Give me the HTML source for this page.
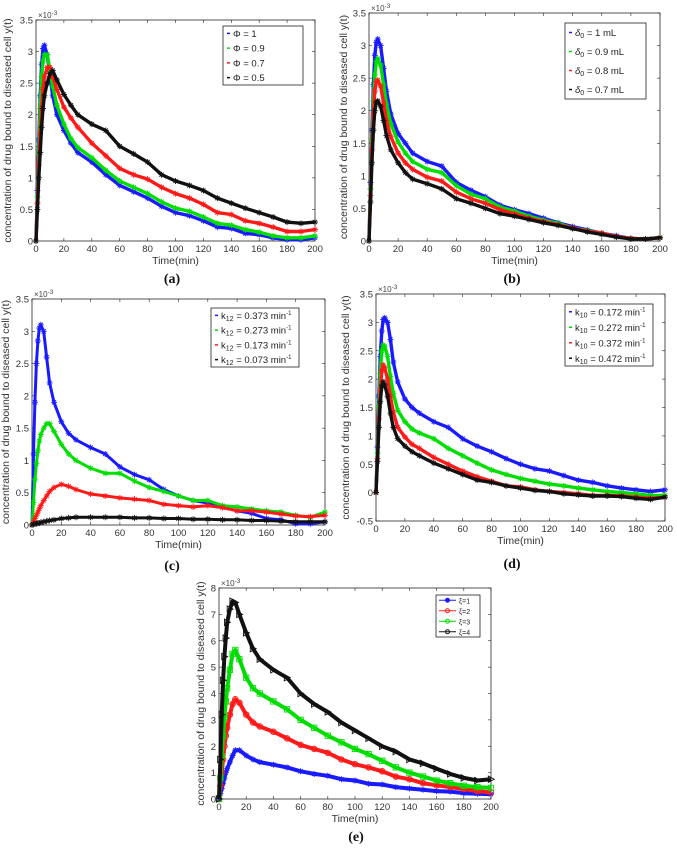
<!DOCTYPE html>
<html><head><meta charset="utf-8"><style>
body{margin:0;background:#fff}
svg text{font-family:"Liberation Sans",sans-serif}
svg text.plab{font-family:"Liberation Serif",serif}
</style></head><body>
<svg id="fig" width="677" height="848" viewBox="0 0 677 848" xmlns="http://www.w3.org/2000/svg"></svg>
<script>
const T=[0,1,2,3,4,5,6,8,10,12,15,20,25,30,40,50,60,70,80,90,100,110,120,130,140,150,160,170,180,190,200];
const xTicks=[0,20,40,60,80,100,120,140,160,180,200];
const yTicksA=[0,0.5,1,1.5,2,2.5,3,3.5];
const yTicksD=[-0.5,0,0.5,1,1.5,2,2.5,3,3.5];
const yTicksE=[0,1,2,3,4,5,6,7,8];
const a_phi1=[0,0.8,1.6,2.3,2.8,3.05,3.1,2.95,2.6,2.3,2.0,1.75,1.55,1.4,1.25,1.05,0.88,0.78,0.68,0.55,0.45,0.4,0.32,0.22,0.2,0.12,0.1,0.05,0.02,0.02,0.05];
const a_phi09=[0,0.7,1.4,2.1,2.6,2.85,2.95,2.95,2.7,2.45,2.15,1.85,1.62,1.48,1.32,1.12,0.95,0.85,0.75,0.62,0.52,0.47,0.38,0.28,0.25,0.18,0.14,0.08,0.05,0.05,0.08];
const a_phi07=[0,0.6,1.2,1.7,2.1,2.4,2.6,2.75,2.75,2.6,2.4,2.12,1.95,1.8,1.55,1.35,1.15,1.05,0.98,0.85,0.75,0.68,0.58,0.45,0.42,0.32,0.28,0.22,0.15,0.15,0.18];
const a_phi05=[0,0.5,1.0,1.4,1.8,2.1,2.3,2.5,2.65,2.7,2.55,2.32,2.15,2.0,1.85,1.75,1.5,1.38,1.25,1.05,0.95,0.88,0.8,0.68,0.6,0.52,0.45,0.38,0.3,0.28,0.3];
const b_d1=[0,0.9,1.7,2.4,2.85,3.05,3.1,3.0,2.65,2.3,1.95,1.65,1.5,1.35,1.22,1.15,0.9,0.78,0.68,0.55,0.48,0.42,0.35,0.28,0.22,0.17,0.12,0.08,0.04,0.03,0.05];
const b_d09=[0,0.8,1.55,2.15,2.55,2.75,2.8,2.7,2.4,2.1,1.8,1.52,1.35,1.22,1.1,1.05,0.85,0.72,0.65,0.52,0.46,0.38,0.32,0.27,0.2,0.16,0.12,0.07,0.04,0.03,0.05];
const b_d08=[0,0.7,1.4,1.95,2.3,2.45,2.47,2.38,2.12,1.85,1.6,1.35,1.2,1.1,0.98,0.92,0.75,0.65,0.58,0.48,0.42,0.35,0.3,0.25,0.2,0.15,0.12,0.07,0.04,0.03,0.05];
const b_d07=[0,0.6,1.2,1.7,2.0,2.13,2.15,2.07,1.85,1.62,1.4,1.2,1.05,0.95,0.88,0.8,0.65,0.58,0.5,0.42,0.38,0.33,0.28,0.24,0.19,0.14,0.1,0.06,0.03,0.03,0.05];
const c_k373=[0,1.1,1.9,2.5,2.85,3.05,3.1,3.0,2.6,2.2,1.9,1.6,1.42,1.32,1.2,1.1,0.9,0.78,0.7,0.55,0.45,0.38,0.34,0.28,0.22,0.18,0.1,0.08,0.02,0.02,0.05];
const c_k273=[0,0.35,0.7,0.95,1.15,1.3,1.4,1.5,1.57,1.57,1.45,1.25,1.1,1.0,0.88,0.8,0.8,0.68,0.58,0.52,0.45,0.38,0.38,0.3,0.28,0.25,0.22,0.2,0.15,0.12,0.2];
const c_k173=[0,0.05,0.1,0.15,0.2,0.25,0.3,0.38,0.45,0.52,0.58,0.63,0.6,0.55,0.48,0.45,0.42,0.4,0.38,0.32,0.3,0.28,0.3,0.27,0.22,0.22,0.2,0.17,0.14,0.13,0.15];
const c_k073=[0,0.01,0.02,0.02,0.03,0.03,0.04,0.05,0.06,0.07,0.08,0.1,0.11,0.12,0.12,0.12,0.12,0.11,0.11,0.1,0.1,0.09,0.09,0.08,0.08,0.07,0.07,0.06,0.05,0.05,0.05];
const d_k172=[0,0.8,1.7,2.4,2.85,3.05,3.08,3.0,2.7,2.3,1.95,1.65,1.5,1.4,1.25,1.15,0.95,0.82,0.72,0.6,0.5,0.42,0.38,0.3,0.22,0.18,0.12,0.08,0.05,0.02,0.05];
const d_k272=[0,0.7,1.5,2.1,2.5,2.6,2.58,2.4,2.05,1.75,1.45,1.25,1.12,1.05,0.95,0.78,0.65,0.52,0.4,0.32,0.25,0.2,0.15,0.12,0.08,0.05,0.02,0,-0.02,-0.05,-0.05];
const d_k372=[0,0.6,1.3,1.8,2.15,2.25,2.2,2.0,1.7,1.42,1.15,0.98,0.85,0.78,0.62,0.5,0.38,0.28,0.2,0.12,0.1,0.05,0.02,0,-0.02,-0.05,-0.05,-0.06,-0.08,-0.1,-0.08];
const d_k472=[0,0.55,1.15,1.6,1.88,1.95,1.9,1.7,1.4,1.15,0.95,0.82,0.72,0.65,0.52,0.42,0.32,0.22,0.18,0.12,0.08,0.04,0.02,-0.02,-0.04,-0.06,-0.06,-0.07,-0.1,-0.12,-0.08];
const e_xi1=[0,0.2,0.4,0.6,0.8,1.0,1.15,1.4,1.65,1.85,1.85,1.65,1.5,1.4,1.3,1.2,1.05,0.95,0.88,0.75,0.7,0.58,0.55,0.45,0.4,0.35,0.3,0.28,0.22,0.2,0.18];
const e_xi2=[0,0.5,1.0,1.5,2.0,2.4,2.7,3.2,3.6,3.78,3.65,3.2,2.9,2.75,2.55,2.3,2.05,1.9,1.75,1.5,1.32,1.2,1.05,0.85,0.75,0.6,0.52,0.45,0.38,0.3,0.25];
const e_xi3=[0,0.8,1.6,2.4,3.1,3.7,4.2,4.9,5.5,5.65,5.3,4.6,4.2,4.0,3.7,3.4,3.0,2.7,2.4,2.15,1.9,1.7,1.45,1.2,1.0,0.85,0.7,0.6,0.5,0.45,0.42];
const e_xi4=[0,1.5,3.2,4.5,5.4,6.1,6.7,7.2,7.5,7.45,7.0,6.3,5.7,5.3,4.9,4.6,4.0,3.6,3.3,2.9,2.6,2.3,2.0,1.8,1.5,1.35,1.15,0.95,0.8,0.7,0.75];

const NS="http://www.w3.org/2000/svg";
const fig=document.getElementById('fig');
function mk(tag,attrs,parent,txt){const e=document.createElementNS(NS,tag);for(const k in attrs)e.setAttribute(k,attrs[k]);if(txt!==undefined)e.textContent=txt;(parent||fig).appendChild(e);return e;}
const BLUE="#1a1aff",GREEN="#00dd00",RED="#ff1a1a",BLACK="#111";

function panel(cfg){
  const g=mk('g',{});
  
  
  const L=cfg.L,R=cfg.R,Tp=cfg.T,B=cfg.B;
  const xs=v=>L+(v-0)/200*(R-L);
  const ys=v=>B-(v-cfg.ymin)/(cfg.ymax-cfg.ymin)*(B-Tp);
  const frame=mk('rect',{x:L,y:Tp,width:R-L,height:B-Tp,fill:'#fff',stroke:'#262626','stroke-width':0.8},g);
  
  
  xTicks.forEach(v=>{
    mk('line',{x1:xs(v),x2:xs(v),y1:B,y2:B-3,stroke:'#262626','stroke-width':0.6},g);
    mk('line',{x1:xs(v),x2:xs(v),y1:Tp,y2:Tp+3,stroke:'#262626','stroke-width':0.6},g);
    const t=mk('text',{x:xs(v),y:B+11,'font-size':9.5,'text-anchor':'middle',fill:'#333'},g,String(v));
    
    
  });
  cfg.yTicks.forEach(v=>{
    mk('line',{x1:L,x2:L+3,y1:ys(v),y2:ys(v),stroke:'#262626','stroke-width':0.6},g);
    mk('line',{x1:R,x2:R-3,y1:ys(v),y2:ys(v),stroke:'#262626','stroke-width':0.6},g);
    const t=mk('text',{x:L-3,y:ys(v)+3.5,'font-size':9.5,'text-anchor':'end',fill:'#333'},g,String(v));
    
    
  });
  const ex=mk('text',{x:L+2,y:Tp-2,'font-size':8,fill:'#444'},g);
  
  
  ex.innerHTML='×10<tspan dy="-3" font-size="6.5">-3</tspan>';
  const xt=mk('text',{x:(L+R)/2,y:B+23,'font-size':10.5,'text-anchor':'middle',fill:'#333'},g,'Time(min)');
  
  
  const yt=mk('text',{x:0,y:0,'font-size':10.5,'text-anchor':'middle',fill:'#333',transform:`translate(${cfg.ytx},${(Tp+B)/2}) rotate(-90)`},g,'concentration of drug bound to diseased cell y(t)');
  
  
  cfg.series.forEach(s=>{
    const pts=T.map((t,i)=>xs(t).toFixed(1)+','+ys(s.data[i]).toFixed(1)).join(' ');
    const pl=mk('polyline',{points:pts,fill:'none',stroke:s.color,'stroke-width':cfg.lw,'stroke-linejoin':'round'},g);
    
    
    T.forEach((t,i)=>{
      const x=xs(t),y=ys(s.data[i]);
      let m;
      if(s.marker==='o') m=mk('circle',{cx:x,cy:y,r:2.8,fill:'none',stroke:s.color,'stroke-width':0.9},g);
      else if(s.marker==='s') m=mk('rect',{x:x-2.7,y:y-2.7,width:5.4,height:5.4,fill:'none',stroke:s.color,'stroke-width':0.9},g);
      else if(s.marker==='t') m=mk('path',{d:`M${x-2.7},${y-3.2}L${x+3.2},${y}L${x-2.7},${y+3.2}Z`,fill:'none',stroke:s.color,'stroke-width':0.9},g);
      else m=mk('path',{d:`M${x-3},${y}H${x+3}M${x},${y-3}V${y+3}M${x-2.1},${y-2.1}L${x+2.1},${y+2.1}M${x-2.1},${y+2.1}L${x+2.1},${y-2.1}`,stroke:s.color,'stroke-width':0.9},g);
      
      
    });
  });
  const lg=mk('g',{},g);
  
  
  const lb=cfg.leg;
  mk('rect',{x:lb.x,y:lb.y,width:lb.w,height:lb.h,fill:'#fff',stroke:'#222','stroke-width':0.8},lg);
  cfg.series.forEach((s,i)=>{
    const yy=lb.y+lb.h/8+i*lb.h/4;
    const e=mk('g',{},lg);
    
    
    if(cfg.id==='e'){
      mk('line',{x1:lb.x+3,x2:lb.x+20,y1:yy,y2:yy,stroke:s.color,'stroke-width':1},e);
      mk('circle',{cx:lb.x+11.5,cy:yy,r:2,fill:s.marker==='*'?s.color:'none',stroke:s.color},e);
      mk('text',{x:lb.x+23,y:yy+3,'font-size':7,fill:'#222'},e,s.label);
    } else {
      mk('line',{x1:lb.x+4,x2:lb.x+7,y1:yy,y2:yy,stroke:s.color,'stroke-width':1.5},e);
      const t=mk('text',{x:lb.x+10,y:yy+3.5,'font-size':9.5,fill:'#222'},e);
      t.innerHTML=s.label;
    }
  });
  const pl=mk('text',{x:cfg.labx,y:cfg.laby,'font-size':14,'font-weight':'bold','text-anchor':'middle',fill:'#111','class':'plab',style:'font-family:"Liberation Serif",serif'},g,'('+cfg.id+')');
  
  
}
const sub=s=>`<tspan font-size="7" dy="2">${s}</tspan><tspan dy="-2"> </tspan>`;
const mi='min<tspan font-size="6" dy="-4">-1</tspan>';
panel({id:'a',L:36,R:315,T:20,B:241,ymin:0,ymax:3.5,yTicks:yTicksA,ytx:11,lw:3.4,labx:172,laby:283,
  leg:{x:223,y:26,w:80,h:59},
  series:[{key:'phi-1',data:a_phi1,color:BLUE,label:'Φ = 1'},{key:'phi-0.9',data:a_phi09,color:GREEN,label:'Φ = 0.9'},{key:'phi-0.7',data:a_phi07,color:RED,label:'Φ = 0.7'},{key:'phi-0.5',data:a_phi05,color:BLACK,label:'Φ = 0.5'}]});
panel({id:'b',L:369,R:660,T:13,B:241,ymin:0,ymax:3.5,yTicks:yTicksA,ytx:347,lw:3.4,labx:512,laby:283,
  leg:{x:565,y:23,w:81,h:76},
  series:[{key:'delta-1',data:b_d1,color:BLUE,label:'<tspan font-style="italic">δ</tspan>'+sub('0')+'= 1 mL'},{key:'delta-0.9',data:b_d09,color:GREEN,label:'<tspan font-style="italic">δ</tspan>'+sub('0')+'= 0.9 mL'},{key:'delta-0.8',data:b_d08,color:RED,label:'<tspan font-style="italic">δ</tspan>'+sub('0')+'= 0.8 mL'},{key:'delta-0.7',data:b_d07,color:BLACK,label:'<tspan font-style="italic">δ</tspan>'+sub('0')+'= 0.7 mL'}]});
panel({id:'c',L:32,R:325,T:299,B:525,ymin:0,ymax:3.5,yTicks:yTicksA,ytx:9,lw:3,labx:172,laby:570,
  leg:{x:211,y:308,w:88,h:59},
  series:[{key:'k12-0.373',data:c_k373,color:BLUE,label:'k'+sub('12')+'= 0.373 '+mi},{key:'k12-0.273',data:c_k273,color:GREEN,label:'k'+sub('12')+'= 0.273 '+mi},{key:'k12-0.173',data:c_k173,color:RED,label:'k'+sub('12')+'= 0.173 '+mi},{key:'k12-0.073',data:c_k073,color:BLACK,label:'k'+sub('12')+'= 0.073 '+mi}]});
panel({id:'d',L:376,R:665,T:294,B:521,ymin:-0.5,ymax:3.5,yTicks:yTicksD,ytx:349,lw:3.4,labx:512,laby:568,
  leg:{x:565,y:304,w:88,h:62},
  series:[{key:'k10-0.172',data:d_k172,color:BLUE,label:'k'+sub('10')+'= 0.172 '+mi},{key:'k10-0.272',data:d_k272,color:GREEN,label:'k'+sub('10')+'= 0.272 '+mi},{key:'k10-0.372',data:d_k372,color:RED,label:'k'+sub('10')+'= 0.372 '+mi},{key:'k10-0.472',data:d_k472,color:BLACK,label:'k'+sub('10')+'= 0.472 '+mi}]});
panel({id:'e',L:219,R:491,T:588,B:799,ymin:0,ymax:8,yTicks:yTicksE,ytx:204,lw:4,labx:356,laby:841,
  leg:{x:436,y:595,w:44,h:42},
  series:[{key:'xi-1',data:e_xi1,color:BLUE,label:'ξ=1',marker:'*'},{key:'xi-2',data:e_xi2,color:RED,label:'ξ=2',marker:'o'},{key:'xi-3',data:e_xi3,color:GREEN,label:'ξ=3',marker:'s'},{key:'xi-4',data:e_xi4,color:BLACK,label:'ξ=4',marker:'t'}]});
</script>
</body></html>
